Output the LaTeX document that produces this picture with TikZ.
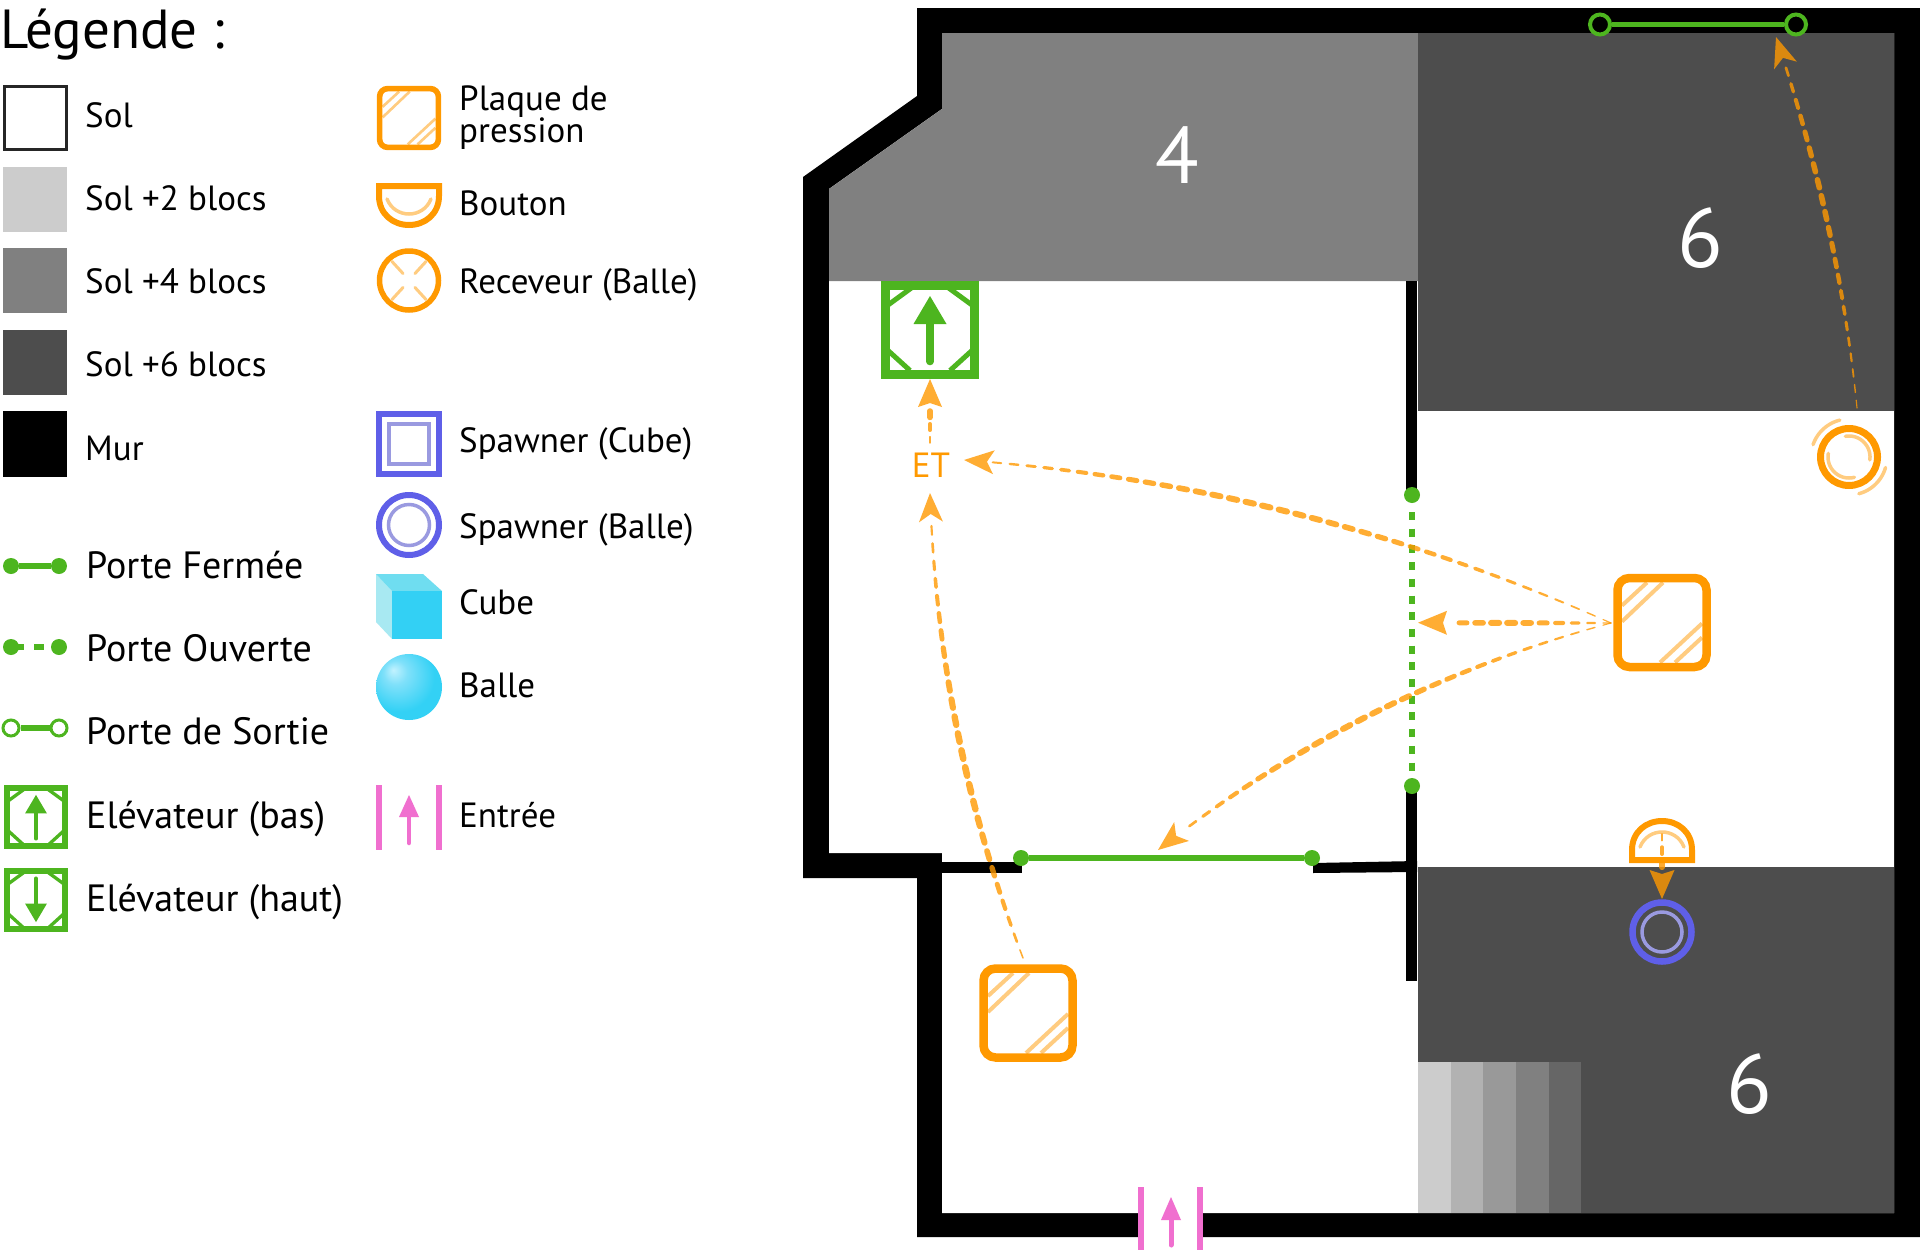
\documentclass[tikz,border=0pt]{standalone}
\usepackage{fontspec}
\setmainfont{PT Sans}
\usetikzlibrary{calc}
\definecolor{orangeC}{HTML}{FF9900}
\definecolor{orangeL}{HTML}{FFCC80}
\definecolor{greenC}{HTML}{4DB51F}
\definecolor{blueC}{HTML}{5F5FE8}
\definecolor{blueL}{HTML}{9A9AE0}
\definecolor{pinkC}{HTML}{F06FCF}
\definecolor{cubeA}{HTML}{33D0F4}
\definecolor{cubeB}{HTML}{6FDDF0}
\definecolor{cubeC}{HTML}{A8E9F2}
\definecolor{solA}{HTML}{CCCCCC}
\definecolor{solB}{HTML}{808080}
\definecolor{solC}{HTML}{4D4D4D}
\pgfdeclareradialshading{balleS}{\pgfpoint{-12bp}{13bp}}{rgb(0bp)=(0.76,0.95,1); rgb(9bp)=(0.5,0.88,0.98); rgb(26bp)=(0.2,0.82,0.96); rgb(60bp)=(0.2,0.82,0.96)}
\newcommand\lgfont{\fontsize{35}{32}\selectfont}
\newcommand\lgbig{\fontsize{38}{38}\selectfont}
\tikzset{
  x=1pt,y=-1pt,
  lab/.style={anchor=base west,inner sep=0pt,font=\lgfont,text=black},
  labbig/.style={anchor=base west,inner sep=0pt,font=\lgbig,text=black},
  big/.style={inner sep=0pt,font=\fontsize{80}{80}\selectfont,text=white},
  bigsix/.style={inner sep=0pt,font=\fontsize{84}{84}\selectfont,text=white},
  doorline/.style={draw=greenC,line width=5.5pt},
  doordot/.style={circle,fill=greenC,inner sep=0pt,minimum size=16pt},
  exitdot/.style={circle,draw=greenC,line width=4pt,inner sep=0pt,minimum size=20pt},
  lightline/.style={draw=orangeL,line width=4pt},
  lightarc/.style={draw=orangeL,line width=3.5pt,line cap=round},
  linkdash/.style={draw=orangeC,opacity=0.8,line cap=round},
  linkhead/.style={fill=orangeC,opacity=0.8},
}
% tapered dashed connector: A, control, B, number of dashes, last t, max width, skew
\newcommand\taper[7]{%
  \foreach \tapi in {1,...,#4}{%
    \pgfmathsetmacro\tapa{(\tapi-1)/#4*#5}%
    \pgfmathsetmacro\tapb{(\tapi-0.5)/#4*#5}%
    \pgfmathsetmacro\tapm{(\tapi-0.75)/#4*#5}%
    \pgfmathsetmacro\tapw{1.1+#6*sin(180*pow(\tapm,#7))}%
    \draw[linkdash,line width=\tapw pt]
      ($($(#1)!\tapa!(#2)$)!\tapa!($(#2)!\tapa!(#3)$)$) --
      ($($(#1)!\tapb!(#2)$)!\tapb!($(#2)!\tapb!(#3)$)$);
  }%
}
% arrow head at #1 coming from #2: length, half width, notch
\newcommand\tapHead[5]{%
  \path let \p1=($(#1)-(#2)$) in \pgfextra{\pgfmathsetmacro\tapang{atan2(\y1,\x1)}\global\let\tapang\tapang};
  \fill[linkhead,shift={(#1)},rotate=\tapang] (0pt,0pt)--(-#3pt,#4pt)--(-#5pt,0pt)--(-#3pt,-#4pt)--cycle;
}
% pressure plate
\newcommand\plaque[3]{%
  \begin{scope}[shift={(#1,#2)},scale=#3]
    \draw[lightline,line width=#3*4pt] (-40,-17)--(-15,-40) (-40,-1)--(1,-40) (40,1)--(-2,40) (40,15)--(13,40);
    \draw[orangeC,line width=#3*8.5pt,rounded corners=#3*12pt] (-44.5,-44.5) rectangle (44.5,44.5);
  \end{scope}}
% elevator
\newcommand\elevateur[4]{%
  \begin{scope}[shift={(#1,#2)},scale=#3]
    \draw[greenC,line width=#3*9pt] (-44.5,-44.5) rectangle (44.5,44.5);
    \draw[greenC,line width=#3*5pt] (-42,-24.5)--(-18,-42) (42,-24.5)--(18,-42) (-42,21)--(-20,41) (42,21)--(20,41);
    \begin{scope}[yscale=#4]
      \fill[greenC] (0,-33.5)--(16.5,-5.5)--(-16.5,-5.5)--cycle;
      \draw[greenC,line width=#3*7.5pt,line cap=round] (0,-8)--(0,32);
    \end{scope}
  \end{scope}}
% button: flat side at y #2, body towards sign #3
\newcommand\bouton[3]{%
  \begin{scope}[shift={(#1,#2)},yscale=#3]
    \draw[orangeC,line width=6pt,line join=miter] (-30,0)--(30,0)--(30,10) .. controls (30,28) and (16,39) .. (0,39) .. controls (-16,39) and (-30,28) .. (-30,10) -- cycle;
    \draw[lightarc] (-22,13) .. controls (-18,23) and (-9,28) .. (0,28) .. controls (9,28) and (18,23) .. (22,13);
  \end{scope}}
% arc in image angles
\newcommand\rarc[5]{\draw[lightarc] plot[domain=#4:#5,samples=24,smooth] ({#1+#3*cos(\x)},{#2-#3*sin(\x)});}
\begin{document}
\begin{tikzpicture}
\useasboundingbox (0,0) rectangle (1920,1253);
\fill[white] (0,0) rectangle (1920,1253);

% ---------- plan : walls and floors
\fill[black] (917,8)--(1920,8)--(1920,1237)--(917,1237)--(917,878)--(803,878)--(803,177)--(917,96)--cycle;
\fill[white] (942,33)--(1894,33)--(1894,1213)--(942,1213)--(942,853)--(829,853)--(829,189)--(942,109)--cycle;
\fill[solB] (942,33)--(1418,33)--(1418,281)--(829,281)--(829,189)--(942,109)--cycle;
\fill[solC] (1418,33) rectangle (1894,411);
\fill[solC] (1418,867) rectangle (1894,1213);
\fill[solA] (1418,1062) rectangle (1451,1213);
\fill[black!30] (1451,1062) rectangle (1483,1213);
\fill[black!40] (1483,1062) rectangle (1516,1213);
\fill[black!50] (1516,1062) rectangle (1549,1213);
\fill[black!60] (1549,1062) rectangle (1581,1213);
\fill[white] (1138,1213) rectangle (1203,1253);
\fill[black] (942,862) rectangle (1022,873);
\fill[black] (1313,863)--(1417,861)--(1417,872)--(1313,873)--cycle;
\fill[black] (1406,281) rectangle (1417,495);
\fill[black] (1406,786) rectangle (1417,981);

\node[big] (n4) at (1177,155) {4};
\node[bigsix] (n6a) at (1700,238) {6};
\node[bigsix] (n6b) at (1749,1084) {6};

% ---------- plan : doors
\node[doordot] (dA) at (1412,495) {};
\node[doordot] (dB) at (1412,786) {};
\draw[greenC,line width=5.5pt,dash pattern=on 8pt off 8.7pt] (1412,512)--(1412,773);
\node[doordot] (dC) at (1021,858) {};
\node[doordot] (dD) at (1312,858) {};
\draw[doorline] (dC)--(dD);
\node[exitdot] (eA) at (1600,24.5) {};
\node[exitdot] (eB) at (1796,24.5) {};
\draw[doorline] (eA)--(eB);

% ---------- plan : devices
\elevateur{930}{329.5}{1}{1}
\plaque{1662}{622.5}{1}
\plaque{1028}{1013}{1}
\bouton{1662}{860}{-1}
\draw[blueC,line width=6.5pt] (1662,932) circle (29.5);
\draw[blueL,line width=3.5pt] (1662,932) circle (20);
\draw[orangeC,line width=7pt] (1849,457) circle (28.5);
\rarc{1849}{457}{21}{-8}{100}
\rarc{1849}{457}{21}{170}{285}
\rarc{1849}{457}{38}{104}{161}
\rarc{1849}{457}{38}{-75}{-16}

% ---------- plan : entrance
\draw[pinkC,line width=6pt] (1141,1187)--(1141,1250) (1200,1187)--(1200,1250);
\fill[pinkC] (1171,1197)--(1181,1220)--(1161,1220)--cycle;
\draw[pinkC,line width=5pt,line cap=round] (1171,1218)--(1171,1245);

% ---------- plan : links
\node[inner sep=0pt,font=\lgfont,text=orangeC] (et) at (931,465) {ET};
\coordinate (pE) at (1611,623);
\coordinate (pS) at (1023,958);
\coordinate (recv) at (1857,408);
\coordinate (etIn) at (964,460);
\coordinate (etBelow) at (930,493);
\coordinate (etTop) at (930,443);
\coordinate (elevB) at (930,379);
\coordinate (doorTip) at (1418,622.7);
\coordinate (gateTip) at (1158,850);
\coordinate (exitTip) at (1776,37);
\coordinate (c1) at (1300,485);
\coordinate (c2) at (1515,623);
\coordinate (c3) at (1362,690);
\coordinate (c4) at (938,735);
\coordinate (c5) at (930,411);
\coordinate (c6) at (1839,226);
\coordinate (btnA) at (1662,834);
\coordinate (btnB) at (1662,899);
\coordinate (c7) at (1662,866);

\taper{pE}{c1}{etIn}{38}{0.97}{5}{1.15}
\tapHead{etIn}{c1}{30}{12}{23}
\taper{pE}{c2}{doorTip}{10}{0.83}{5}{1.2}
\tapHead{doorTip}{c2}{29}{12}{25}
\taper{pE}{c3}{gateTip}{29}{0.94}{5}{1.2}
\tapHead{gateTip}{c3}{30}{12}{23}
\taper{pS}{c4}{etBelow}{26}{0.95}{5.5}{0.78}
\tapHead{etBelow}{c4}{29}{12}{21}
\taper{etTop}{c5}{elevB}{3}{0.6}{5}{1.3}
\tapHead{elevB}{c5}{28}{12}{24}
\taper{recv}{c6}{exitTip}{22}{0.94}{4.5}{1.3}
\tapHead{exitTip}{c6}{30}{12}{22}
\taper{btnA}{c7}{btnB}{3}{0.62}{4.5}{1.1}
\tapHead{btnB}{c7}{29}{12.5}{25}

% ---------- legend
\node[inner sep=0pt,anchor=base west,font=\fontsize{55}{55}\selectfont] (titre) at (0,48) {Légende :};

\draw[black!85,line width=3pt,fill=white] (4,86.5) rectangle (66.5,149.5);
\fill[solA] (2.5,167) rectangle (67,232);
\fill[solB] (2.5,248) rectangle (67,313);
\fill[solC] (2.5,330) rectangle (67,395);
\fill[black] (2.5,411) rectangle (67,477);
\node[lab] (t1) at (85,127) {Sol};
\node[lab] (t2) at (85,210) {Sol +2 blocs};
\node[lab] (t3) at (85,293) {Sol +4 blocs};
\node[lab] (t4) at (85,376) {Sol +6 blocs};
\node[lab] (t5) at (85,460) {Mur};

\node[doordot] (lA) at (11,566) {};
\node[doordot] (lB) at (59,566) {};
\draw[doorline] (lA)--(lB);
\node[doordot] (lC) at (11,647) {};
\node[doordot] (lD) at (59,647) {};
\draw[greenC,line width=5.5pt] (11,647)--(24,647) (34,647)--(44,647);
\node[exitdot,line width=3pt,minimum size=16pt] (lE) at (11,728) {};
\node[exitdot,line width=3pt,minimum size=16pt] (lF) at (59,728) {};
\draw[doorline] (lE)--(lF);
\elevateur{36}{817}{0.66}{1}
\elevateur{36}{900}{0.66}{-1}
\node[labbig] (t6) at (86,578) {Porte Fermée};
\node[labbig] (t7) at (86,661) {Porte Ouverte};
\node[labbig] (t8) at (86,744) {Porte de Sortie};
\node[labbig] (t9) at (86,828) {Elévateur (bas)};
\node[labbig] (t10) at (86,911) {Elévateur (haut)};

\plaque{409}{118}{0.66}
\bouton{409}{186}{1}
\draw[orangeC,line width=5.5pt] (409,280.5) circle (29.5);
\draw[lightarc,line width=3pt] (392,261.5)--(403,273.5) (426,261.5)--(415,273.5) (392,299.5)--(403,287.5) (426,299.5)--(415,287.5);
\draw[blueC,line width=6pt] (379,414) rectangle (439,474);
\draw[blueL,line width=3.5pt] (389,424) rectangle (429,464);
\draw[blueC,line width=6pt] (409,525) circle (30);
\draw[blueL,line width=3.5pt] (409,525) circle (20.5);
\fill[cubeC] (376,574)--(392,591)--(392,639)--(376,622)--cycle;
\fill[cubeB] (376,574)--(423,574)--(442,591)--(392,591)--cycle;
\fill[cubeA] (392,591) rectangle (442,639);
\path[shading=balleS] (409,687) circle (33);
\draw[pinkC,line width=5.5pt] (379,785)--(379,850) (439,785)--(439,850);
\fill[pinkC] (409,795)--(419,817)--(399,817)--cycle;
\draw[pinkC,line width=4.5pt,line cap=round] (409,815)--(409,843);

\node[lab,align=left] (t11) at (459,142) {Plaque de\\pression};
\node[lab] (t12) at (459,215) {Bouton};
\node[lab] (t13) at (459,293) {Receveur (Balle)};
\node[lab] (t14) at (459,452) {Spawner (Cube)};
\node[lab] (t15) at (459,538) {Spawner (Balle)};
\node[lab] (t16) at (459,614) {Cube};
\node[lab] (t17) at (459,697) {Balle};
\node[lab] (t18) at (459,827) {Entrée};
\end{tikzpicture}
\end{document}
